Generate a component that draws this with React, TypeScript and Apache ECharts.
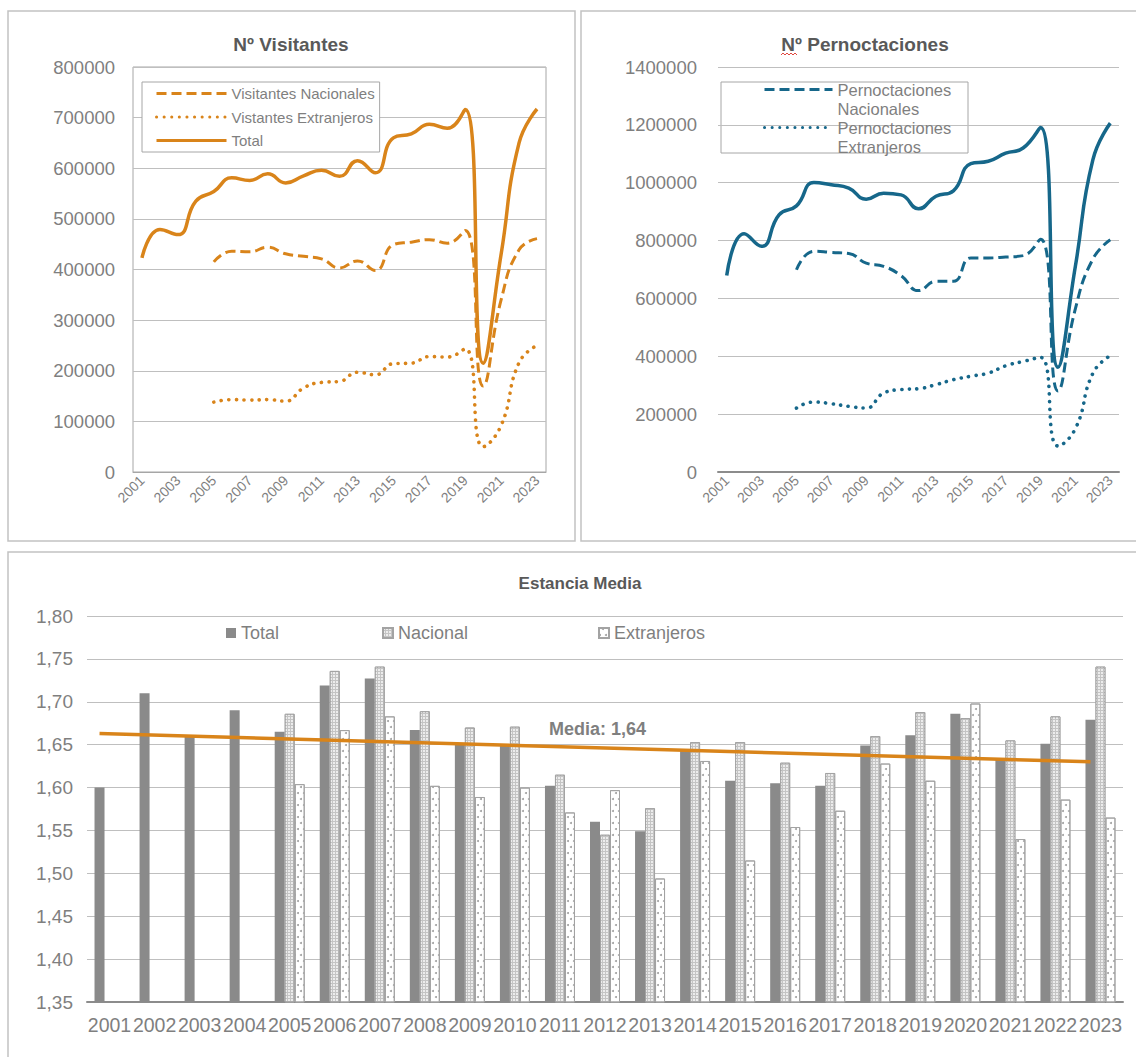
import React, { useEffect, useRef } from "react";
import * as echarts from "echarts";

const years = ["2001","2002","2003","2004","2005","2006","2007","2008","2009","2010","2011","2012","2013","2014","2015","2016","2017","2018","2019","2020","2021","2022","2023"];

// Nº Visitantes
const visNacionales = [null, null, null, null, 415000, 436000, 435000, 444000, 431000, 426000, 421000, 403000, 417000, 398000, 449000, 454000, 459000, 452000, 477000, 170000, 340000, 439000, 461000];
const visExtranjeros = [null, null, null, null, 138000, 143000, 142000, 143000, 140000, 166000, 177000, 179000, 197000, 192000, 214000, 215000, 228000, 227000, 243000, 50000, 92000, 216000, 250000];
const visTotal = [423000, 479000, 469000, 535000, 554000, 581000, 576000, 589000, 571000, 585000, 596000, 584000, 615000, 591000, 660000, 668000, 687000, 679000, 716000, 215000, 430000, 650000, 717000];

// Nº Pernoctaciones
const perNacionales = [null, null, null, null, 699000, 763000, 759000, 755000, 722000, 711000, 679000, 627000, 659000, 659000, 740000, 740000, 743000, 748000, 805000, 280000, 565000, 736000, 803000];
const perExtranjeros = [null, null, null, null, 221000, 242000, 236000, 227000, 221000, 273000, 285000, 288000, 302000, 319000, 331000, 342000, 367000, 382000, 396000, 90000, 150000, 341000, 402000];
const perTotal = [679000, 824000, 780000, 889000, 920000, 1001000, 993000, 981000, 943000, 964000, 958000, 910000, 953000, 972000, 1066000, 1074000, 1102000, 1120000, 1191000, 362000, 712000, 1079000, 1206000];

// Estancia Media
const emTotal = [1.600, 1.710, 1.660, 1.690, 1.665, 1.719, 1.727, 1.667, 1.652, 1.650, 1.602, 1.560, 1.549, 1.645, 1.608, 1.605, 1.602, 1.649, 1.661, 1.686, 1.633, 1.651, 1.679];
const emNacional = [null, null, null, null, 1.686, 1.736, 1.741, 1.689, 1.670, 1.671, 1.615, 1.545, 1.576, 1.653, 1.653, 1.629, 1.617, 1.660, 1.688, 1.681, 1.655, 1.683, 1.741];
const emExtranjeros = [null, null, null, null, 1.604, 1.667, 1.683, 1.602, 1.589, 1.600, 1.571, 1.597, 1.494, 1.631, 1.515, 1.554, 1.573, 1.628, 1.608, 1.698, 1.540, 1.586, 1.565];
const trendYears = ["2001", "2023"];
const trendValues = [1.663, 1.630];
const mediaLabel = "Media: 1,64";

const ORANGE = "#d9841a";
const TEAL = "#16678a";
const GRAY_TXT = "#7f7f7f";
const TITLE_TXT = "#595959";
const GRID_LINE = "#bfbfbf";
const FONT = "Liberation Sans";

export default function App() {
  const ref = useRef<HTMLDivElement>(null);
  useEffect(() => {
    if (!ref.current) return;
    const chart = echarts.init(ref.current, null, { renderer: "svg" });

    const lineSeries = (name: string, data: any[], color: string, kind: string, xi: number) => ({
      name,
      type: "line",
      xAxisIndex: xi,
      yAxisIndex: xi,
      data,
      smooth: true,
      symbol: "none",
      connectNulls: false,
      itemStyle: { color },
      lineStyle: {
        color,
        width: kind === "solid" ? 3.5 : kind === "dotted" ? 3.6 : 3,
        type: kind === "dashed" ? [10, 5] : kind === "dotted" ? [0.1, 7.5] : "solid",
        cap: kind === "dotted" ? "round" : "butt",
      },
      z: 3,
    });

    const topXAxis = (gi: number) => ({
      type: "category",
      gridIndex: gi,
      data: years,
      boundaryGap: true,
      axisTick: { show: false },
      axisLine: { show: true, lineStyle: { color: gi === 0 ? "#a6a6a6" : "#8c8c8c", width: gi === 0 ? 1 : 2 } },
      axisLabel: { interval: 1, rotate: 45, fontSize: 14, color: GRAY_TXT, margin: 6, fontFamily: FONT },
    });

    const plain = (v: number) => String(v);

    const option: any = {
      animation: false,
      backgroundColor: "#ffffff",
      textStyle: { fontFamily: FONT },
      graphic: [
        { type: "rect", z: -10, shape: { x: 8, y: 11, width: 567, height: 530 }, style: { fill: "#fff", stroke: "#c2c2c2", lineWidth: 1.5 } },
        { type: "rect", z: -10, shape: { x: 581, y: 11, width: 570, height: 530 }, style: { fill: "#fff", stroke: "#c2c2c2", lineWidth: 1.5 } },
        { type: "rect", z: -10, shape: { x: 8, y: 552, width: 1140, height: 520 }, style: { fill: "#fff", stroke: "#c2c2c2", lineWidth: 1.5 } },
        { type: "text", x: 291, y: 35, style: { text: "Nº Visitantes", fontSize: 19, fontWeight: "bold", fill: TITLE_TXT, align: "center", verticalAlign: "top", fontFamily: FONT } },
        { type: "text", x: 865, y: 35, style: { text: "Nº Pernoctaciones", fontSize: 19, fontWeight: "bold", fill: TITLE_TXT, align: "center", verticalAlign: "top", fontFamily: FONT } },
        { type: "polyline", shape: { points: [[781, 55], [783, 53], [785, 55], [787, 53], [789, 55], [791, 53], [793, 55], [795, 53], [797, 55]] }, style: { stroke: "#e0473f", lineWidth: 1, fill: null } },
        { type: "text", x: 580, y: 575, style: { text: "Estancia Media", fontSize: 17, fontWeight: "bold", fill: TITLE_TXT, align: "center", verticalAlign: "top", fontFamily: FONT } },
        { type: "text", x: 549, y: 720, z: 20, style: { text: mediaLabel, fontSize: 18, fontWeight: "bold", fill: GRAY_TXT, align: "left", verticalAlign: "top", fontFamily: FONT } },
        { type: "rect", shape: { x: 721, y: 82, width: 247, height: 71 }, style: { fill: "#fff", stroke: "#a6a6a6", lineWidth: 1 } },
      ],
      legend: [
        {
          data: ["Visitantes Nacionales", "Vistantes Extranjeros", "Total"],
          orient: "vertical",
          left: 142,
          top: 82,
          padding: [4, 5, 4, 13],
          itemGap: 8.5,
          itemWidth: 70,
          itemHeight: 14,
          borderColor: "#a6a6a6",
          borderWidth: 1,
          backgroundColor: "#fff",
          lineStyle: { width: 3 },
          itemStyle: { opacity: 0 },
          textStyle: { fontSize: 15, color: GRAY_TXT, fontFamily: FONT },
          selectedMode: false,
        },
        {
          data: ["Pernoctaciones Nacionales", "Pernoctaciones Extranjeros"],
          orient: "vertical",
          left: 763,
          top: 61,
          padding: 0,
          itemGap: -19,
          itemWidth: 68,
          itemHeight: 14,
          lineStyle: { width: 3 },
          itemStyle: { opacity: 0 },
          formatter: (n: string) => "\n" + n.replace(" ", "\n"),
          textStyle: { fontSize: 16.5, color: GRAY_TXT, lineHeight: 19, fontFamily: FONT },
          selectedMode: false,
        },
        {
          data: ["Total (estancia)"],
          left: 226, top: 624, padding: 0, icon: "rect", itemWidth: 10, itemHeight: 10,
          formatter: () => "Total",
          textStyle: { fontSize: 18, color: GRAY_TXT, fontFamily: FONT },
          selectedMode: false,
        },
        {
          data: ["Nacional"],
          left: 382, top: 624, padding: 0, icon: "rect", itemWidth: 10, itemHeight: 10,
          textStyle: { fontSize: 18, color: GRAY_TXT, fontFamily: FONT },
          selectedMode: false,
        },
        {
          data: ["Extranjeros"],
          left: 598, top: 624, padding: 0, icon: "rect", itemWidth: 10, itemHeight: 10,
          textStyle: { fontSize: 18, color: GRAY_TXT, fontFamily: FONT },
          selectedMode: false,
        },
      ],
      grid: [
        { left: 133, top: 67, width: 413, height: 405, show: true, borderColor: "#a6a6a6", borderWidth: 1 },
        { left: 718, top: 67, width: 401, height: 405 },
        { left: 87, top: 616, width: 1036, height: 386 },
      ],
      xAxis: [
        topXAxis(0),
        topXAxis(1),
        {
          type: "category",
          gridIndex: 2,
          data: years,
          boundaryGap: true,
          axisTick: { show: false },
          axisLine: { show: true, lineStyle: { color: "#8c8c8c", width: 2 } },
          axisLabel: { interval: 0, fontSize: 19.5, color: GRAY_TXT, margin: 13, fontFamily: FONT },
        },
      ],
      yAxis: [
        {
          type: "value", gridIndex: 0, min: 0, max: 800000, interval: 100000,
          axisLine: { show: false }, axisTick: { show: false },
          axisLabel: { fontSize: 18.5, color: GRAY_TXT, margin: 18, fontFamily: FONT, formatter: plain },
          splitLine: { lineStyle: { color: GRID_LINE, width: 1 } },
        },
        {
          type: "value", gridIndex: 1, min: 0, max: 1400000, interval: 200000,
          axisLine: { show: false }, axisTick: { show: false },
          axisLabel: { fontSize: 18.5, color: GRAY_TXT, margin: 21, fontFamily: FONT, formatter: plain },
          splitLine: { lineStyle: { color: GRID_LINE, width: 1 } },
        },
        {
          type: "value", gridIndex: 2, min: 1.35, max: 1.8, interval: 0.05,
          axisLine: { show: false }, axisTick: { show: false },
          axisLabel: { fontSize: 19, color: GRAY_TXT, margin: 14, fontFamily: FONT, formatter: (v: number) => v.toFixed(2).replace(".", ",") },
          splitLine: { lineStyle: { color: GRID_LINE, width: 1 } },
        },
      ],
      series: [
        lineSeries("Visitantes Nacionales", visNacionales, ORANGE, "dashed", 0),
        lineSeries("Vistantes Extranjeros", visExtranjeros, ORANGE, "dotted", 0),
        lineSeries("Total", visTotal, ORANGE, "solid", 0),
        lineSeries("Pernoctaciones Nacionales", perNacionales, TEAL, "dashed", 1),
        lineSeries("Pernoctaciones Extranjeros", perExtranjeros, TEAL, "dotted", 1),
        lineSeries("Pernoctaciones Total", perTotal, TEAL, "solid", 1),
        {
          name: "Total (estancia)",
          type: "bar",
          xAxisIndex: 2,
          yAxisIndex: 2,
          data: emTotal,
          barWidth: 10,
          barGap: "0%",
          itemStyle: { color: "#8a8a8a" },
          markLine: {
            silent: true,
            z: 10,
            symbol: ["none", "none"],
            lineStyle: { color: ORANGE, width: 3.5, type: "solid" },
            label: { show: false },
            data: [[{ coord: [trendYears[0], trendValues[0]] }, { coord: [trendYears[1], trendValues[1]] }]],
          },
        },
        {
          name: "Nacional",
          type: "bar",
          xAxisIndex: 2,
          yAxisIndex: 2,
          data: emNacional,
          barWidth: 10,
          barGap: "0%",
          itemStyle: {
            color: "#c4c4c4",
            borderColor: "#a3a3a3",
            borderWidth: 1,
            decal: { symbol: "rect", symbolSize: 1, dashArrayX: [2, 1], dashArrayY: [2, 1], color: "#ececec" },
          },
        },
        {
          name: "Extranjeros",
          type: "bar",
          xAxisIndex: 2,
          yAxisIndex: 2,
          data: emExtranjeros,
          barWidth: 10,
          barGap: "0%",
          itemStyle: {
            color: "#ffffff",
            borderColor: "#a3a3a3",
            borderWidth: 1,
            decal: { symbol: "circle", symbolSize: 1, dashArrayX: [[2, 4], [0, 3, 2, 1]], dashArrayY: [2, 4], color: "#a0a0a0" },
          },
        },
      ],
    };

    chart.setOption(option);
    return () => chart.dispose();
  }, []);

  return (
    <div
      ref={ref}
      style={{ position: "absolute", left: 0, top: 0, width: 1136, height: 1057, background: "#fff" }}
    />
  );
}
